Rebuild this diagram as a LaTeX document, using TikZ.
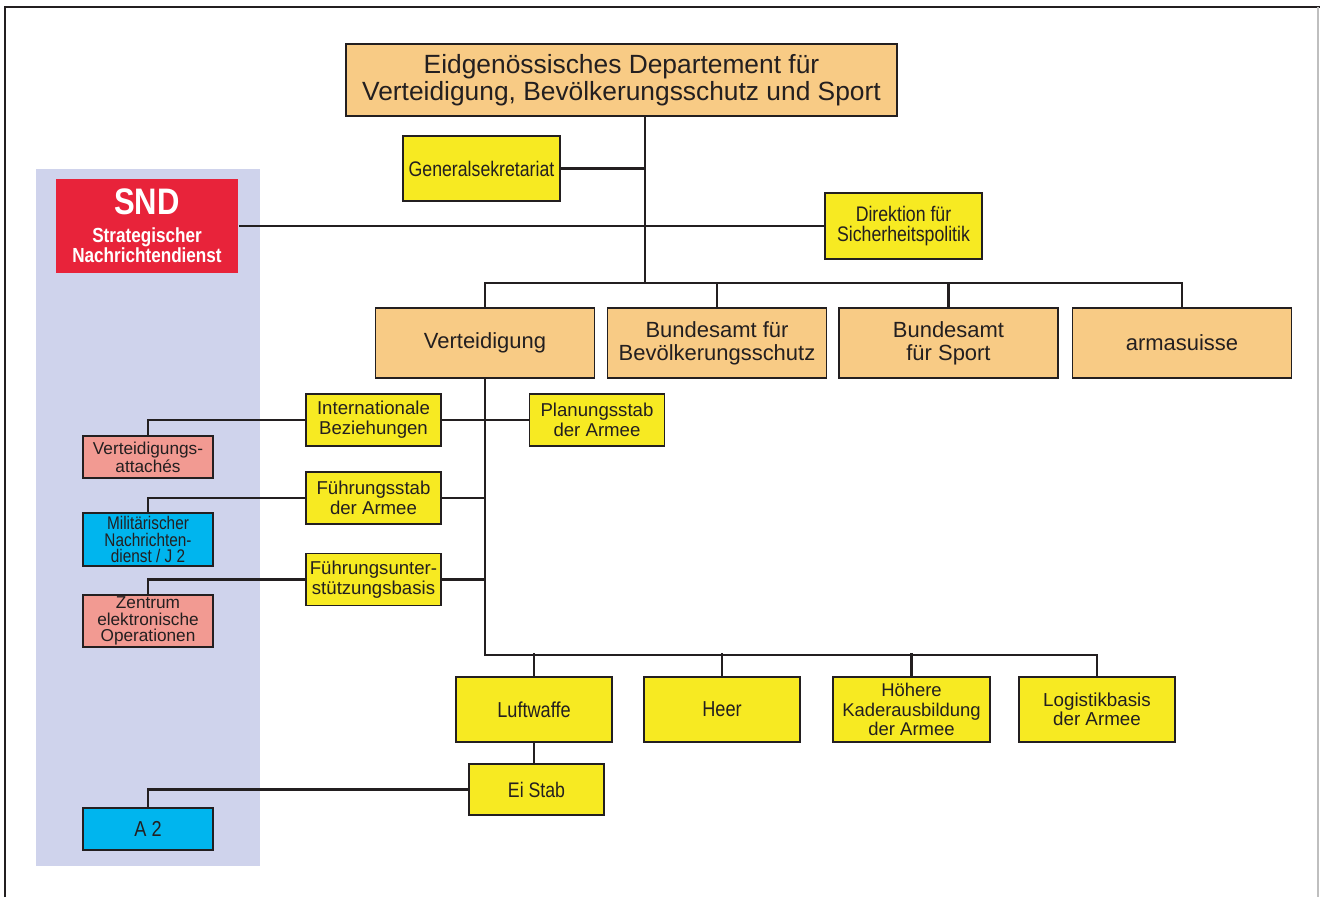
\documentclass[tikz,border=0pt]{standalone}
\usepackage{fontspec}
\setmainfont{Liberation Sans}
\newfontfamily\condfont{Liberation Sans}[FakeStretch=0.84]
\definecolor{orangebox}{HTML}{F8CB85}
\definecolor{yellowbox}{HTML}{F7EA22}
\definecolor{sndred}{HTML}{E8233A}
\definecolor{pinkbox}{HTML}{F29A92}
\definecolor{cyanbox}{HTML}{00B5EE}
\definecolor{panel}{HTML}{CFD3EC}
\definecolor{ink}{HTML}{231F20}
\tikzstyle{every node}=[rectangle, draw=ink, line width=1.1pt, align=center, inner sep=0pt, text=ink]
\tikzstyle{amt}=[fill=orangebox, minimum width=4.38cm, minimum height=1.4cm, font=\fontsize{12.5}{13}\selectfont]
\tikzstyle{stab}=[fill=yellowbox, minimum width=2.7cm, minimum height=1.04cm, font=\fontsize{10.6}{11.4}\selectfont]
\tikzstyle{truppe}=[fill=yellowbox, minimum width=3.13cm, minimum height=1.3cm, font=\fontsize{10.7}{11}\selectfont]
\tikzstyle{aussen}=[minimum width=2.6cm, minimum height=0.84cm, font=\fontsize{9.8}{8.8}\selectfont]
\tikzstyle{verbindung}=[draw=ink, line width=1.6pt]

\begin{document}
\begin{tikzpicture}[x=0.02cm,y=-0.02cm]
\useasboundingbox (0,0) rectangle (1320,897);
\fill[panel] (36,169) rectangle (260,866);
\draw[ink, line width=0.8pt] (5,897) -- (5,7) -- (1320,7);
\draw[black!25, line width=0.6pt] (1318,7) -- (1318,897);

% Departement
\node[fill=orangebox, minimum width=11.02cm, minimum height=1.44cm, font=\fontsize{15}{15.4}\selectfont] (edvbs) at (621.5,80)
	{Eidgenössisches Departement für\\Verteidigung, Bevölkerungsschutz und Sport};
\node[fill=yellowbox, minimum width=3.14cm, minimum height=1.3cm, font=\condfont\fontsize{12}{12}\selectfont] (gs) at (481.5,168.5) {Generalsekretariat};
\node[fill=yellowbox, minimum width=3.14cm, minimum height=1.32cm, font=\condfont\fontsize{12}{11.5}\selectfont] (dsp) at (903.5,226) {Direktion für\\Sicherheitspolitik};
\node[fill=sndred, draw=none, minimum width=3.64cm, minimum height=1.9cm, text=white, font=\condfont\bfseries\fontsize{11.6}{11.6}\selectfont] (snd) at (147,226)
	{{\fontsize{21}{21}\selectfont SND}\\[4pt]Strategischer\\Nachrichtendienst};

% Aemter
\node[amt] (vert) at (485,343) {Verteidigung};
\node[amt] (babs) at (717,343) {Bundesamt für\\Bevölkerungsschutz};
\node[amt] (baspo) at (948.5,343) {Bundesamt\\für Sport};
\node[amt] (armas) at (1182,343) {armasuisse};

% Verteidigung
\node[stab] (ib) at (373.5,420) {Internationale\\Beziehungen};
\node[stab] (psa) at (597,420) {Planungsstab\\der Armee};
\node[stab] (fsta) at (373.5,498) {Führungsstab\\der Armee};
\node[stab] (fub) at (373.5,579.5) {Führungsunter-\\stützungsbasis};
\node[aussen, fill=pinkbox] (va) at (148,457) {Verteidigungs-\\attachés};
\node[aussen, fill=cyanbox, minimum height=1.06cm, font=\condfont\fontsize{10.4}{9.6}\selectfont] (mnd) at (148,539.5) {Militärischer\\Nachrichten-\\dienst / J 2};
\node[aussen, fill=pinkbox, minimum height=1.04cm, font=\fontsize{9.8}{9.4}\selectfont] (zeo) at (148,621) {Zentrum\\elektronische\\Operationen};

\node[truppe, font=\condfont\fontsize{12.3}{12}\selectfont] (lw) at (534,709.5) {Luftwaffe};
\node[truppe, font=\condfont\fontsize{12.3}{12}\selectfont] (heer) at (722,709.5) {Heer};
\node[truppe, font=\fontsize{10.5}{11}\selectfont] (hka) at (911.5,709.5) {Höhere\\Kaderausbildung\\der Armee};
\node[truppe] (lba) at (1097,709.5) {Logistikbasis\\der Armee};
\node[stab, minimum height=1.02cm, font=\condfont\fontsize{12}{12}\selectfont] (eis) at (536.5,789.5) {Ei Stab};
\node[aussen, fill=cyanbox, font=\condfont\fontsize{12.3}{12}\selectfont] (a2) at (148,829) {A 2};

% Linien
\coordinate (bus) at (645,284);
\draw[verbindung] (edvbs.south -| bus) -- (bus);
\draw[verbindung] (gs.east) -- (gs.east -| bus);
\draw[verbindung] (snd.east) -- (dsp.west);
\draw[verbindung] (vert.north) -- ++(0,-24) -| (armas.north);
\foreach \n in {babs,baspo}
	\draw[verbindung] (\n.north) -- ++(0,-24);
\draw[verbindung] (vert.south) -- ++(0,276) -| (lba.north);
\foreach \n in {lw,heer,hka}
	\draw[verbindung] (\n.north) -- ++(0,-23);
\draw[verbindung] (va.north) |- (ib.west);
\draw[verbindung] (ib.east) -- (psa.west);
\draw[verbindung] (mnd.north) |- (fsta.west);
\draw[verbindung] (fsta.east) -- (fsta.east -| vert.south);
\draw[verbindung] (zeo.north) |- (fub.west);
\draw[verbindung] (fub.east) -- (fub.east -| vert.south);
\draw[verbindung] (lw.south) -- (lw.south |- eis.north);
\draw[verbindung] (a2.north) |- (eis.west);
\end{tikzpicture}
\end{document}
